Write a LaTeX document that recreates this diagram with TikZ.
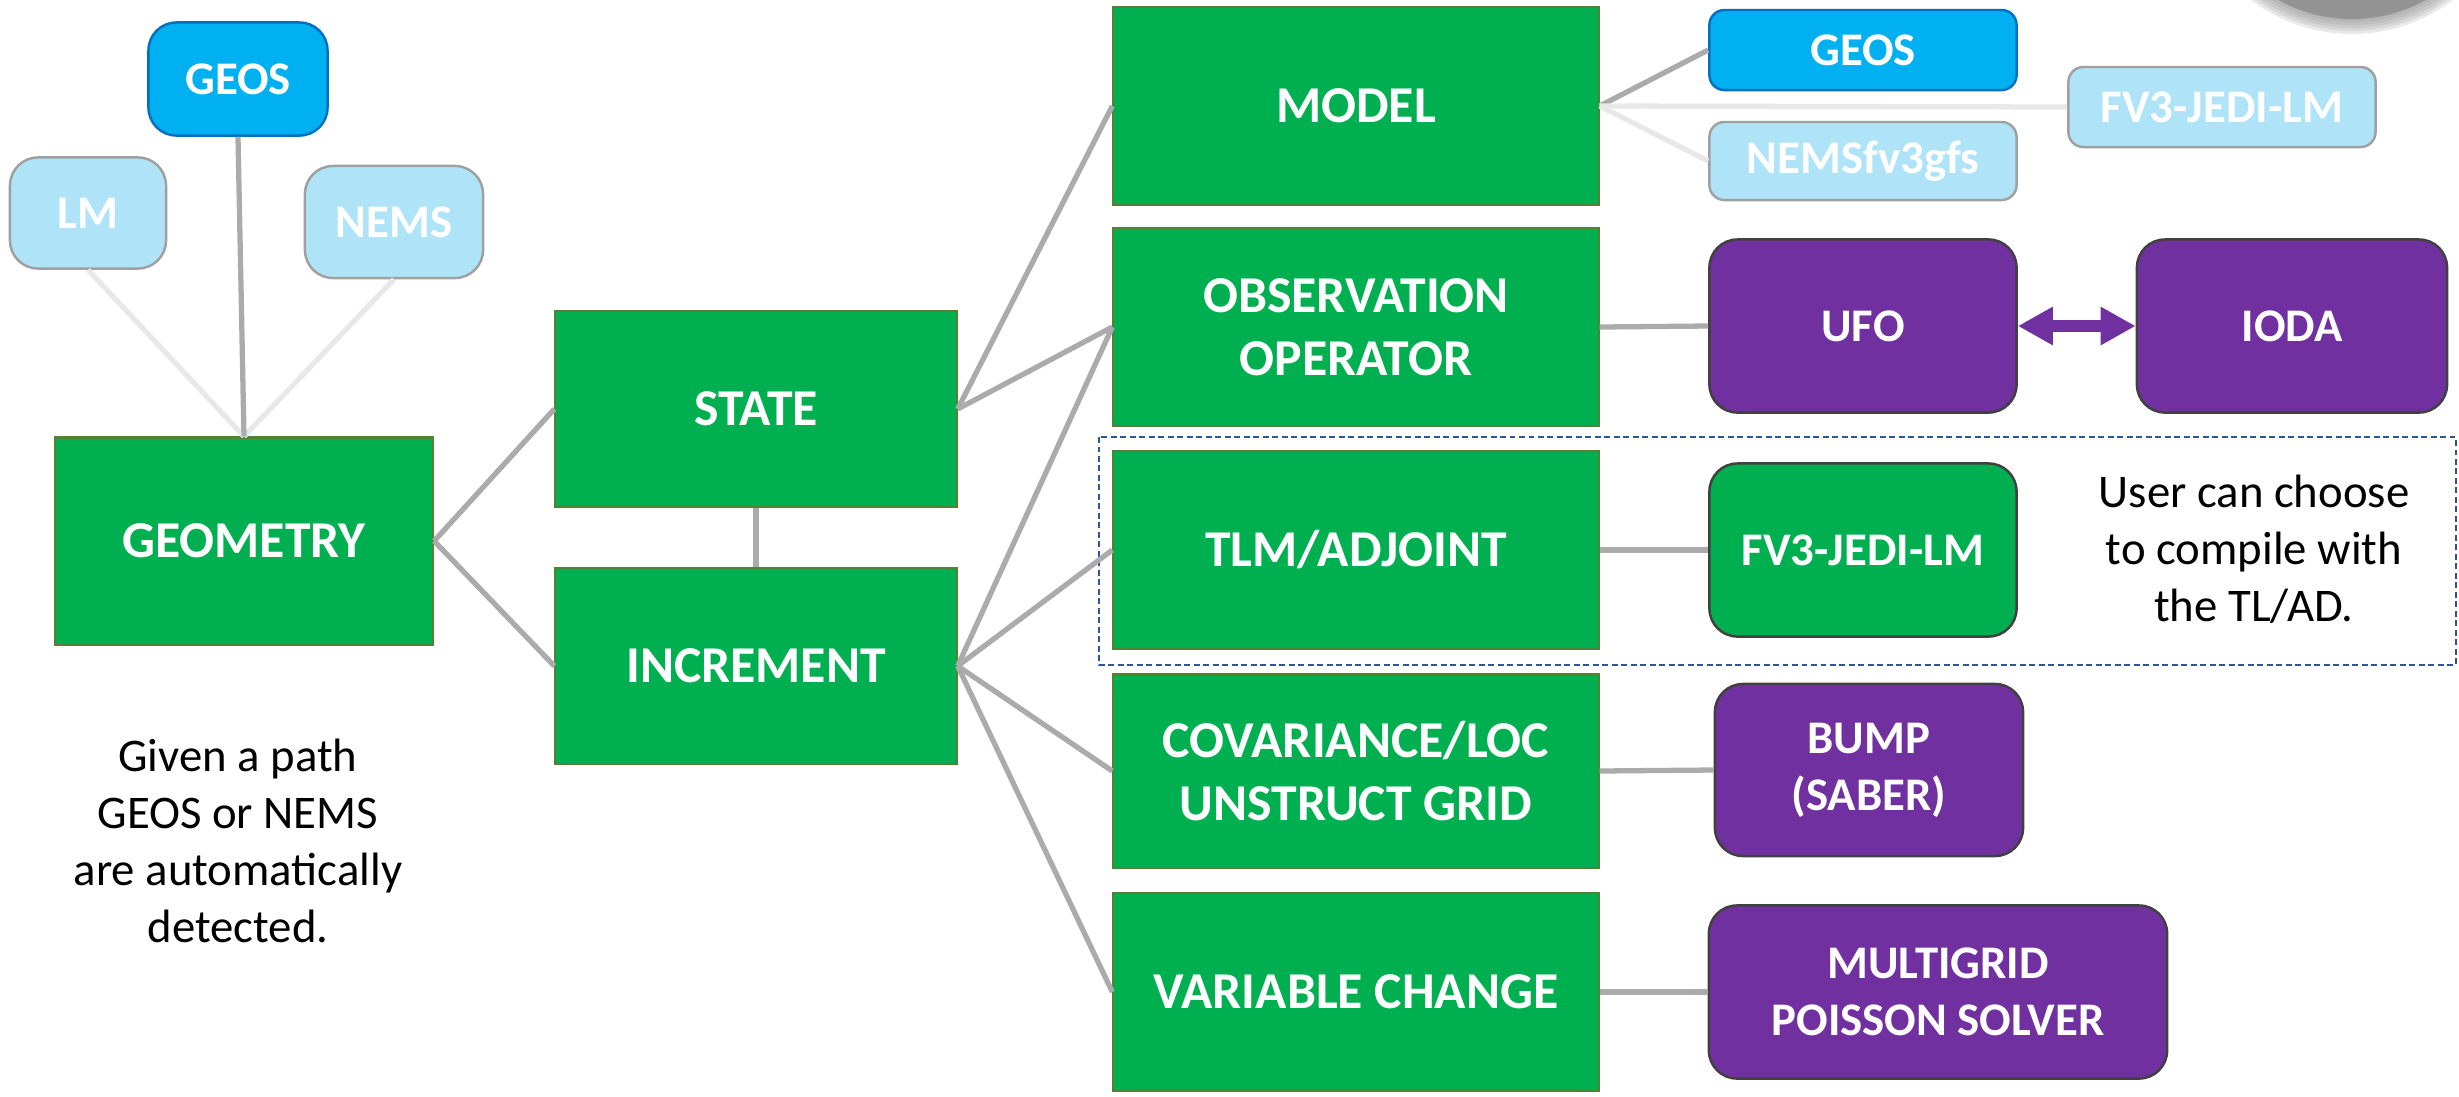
\documentclass[tikz,border=0pt]{standalone}
\usepackage{fontspec}
\setmainfont{Carlito}
\usetikzlibrary{arrows.meta}

\definecolor{boxGreen}{RGB}{0,176,80}
\definecolor{greenEdge}{RGB}{84,130,53}
\definecolor{paleBlue}{RGB}{175,228,248}
\definecolor{paleEdge}{RGB}{160,160,160}
\definecolor{brightBlue}{RGB}{0,176,240}
\definecolor{brightEdge}{RGB}{0,112,192}
\definecolor{boxPurple}{RGB}{112,48,160}
\definecolor{darkEdge}{RGB}{64,64,64}
\definecolor{linkGray}{RGB}{171,171,171}
\definecolor{faintGray}{RGB}{232,232,232}
\definecolor{dashBlue}{RGB}{47,85,151}
\definecolor{shadowGray}{RGB}{147,147,147}

\begin{document}
\begin{tikzpicture}[%%
  x=0.01cm,y=-0.01cm,%%
  linkStyle/.style={-,line width=1.5pt,draw=linkGray},%%
  faintStyle/.style={-,line width=1.5pt,draw=faintGray},%%
  bothStyle/.style={{Triangle[length=3.5mm,width=3.6mm]}-{Triangle[length=3.5mm,width=3.6mm]},line width=3.4pt,draw=boxPurple},%%
  dashStyle/.style={draw=dashBlue,dash pattern=on 1.7pt off 1pt,line width=0.7pt},%%
  bigFont/.style={font=\bfseries\fontsize{14.7}{17.9}\selectfont},%%
  smallFont/.style={font=\bfseries\fontsize{13.3}{16.2}\selectfont},%%
  greenBox/.style={bigFont,draw=greenEdge,fill=boxGreen,line width=0.6pt,text=white,align=center,inner sep=0pt,minimum width=4.85cm,minimum height=1.98cm},%%
  roundBox/.style={smallFont,rounded corners=0.28cm,line width=0.7pt,text=white,align=center,inner sep=0pt,minimum width=3.07cm,minimum height=1.73cm},%%
  purpleBox/.style={roundBox,draw=darkEdge,fill=boxPurple},%%
  paleBox/.style={roundBox,draw=paleEdge,fill=paleBlue},%%
  blueBox/.style={roundBox,draw=brightEdge,fill=brightBlue},%%
  noteStyle/.style={font=\fontsize{13.3}{16.2}\selectfont,align=center,inner sep=0pt}%%
]
%%
\useasboundingbox (0,0) rectangle (2459,1096);
%%
%% Shadow of the round badge cut by the top edge.
\foreach \rad in {1.66,1.63,1.60,1.57,1.54}
  \fill[shadowGray,opacity=0.2] (2352,-132) circle[radius=\rad cm];
\fill[shadowGray] (2352,-132) circle[radius=1.51cm];
%%
%% The geometry and the models it can come from.
\node[greenBox,minimum width=3.78cm,minimum height=2.07cm] (geometry) at (244,541) {GEOMETRY};
\node[paleBox,minimum width=1.56cm,minimum height=1.11cm] (lm) at (88,213) {LM};
\node[blueBox,minimum width=1.79cm,minimum height=1.13cm] (geosTop) at (238,79) {GEOS};
\node[paleBox,minimum width=1.78cm,minimum height=1.12cm] (nems) at (394,222) {NEMS};
\node[noteStyle] (pathNote) at (238,841) {Given a path\\GEOS or NEMS\\are automatically\\detected.};
%%
%% State and increment.
\node[greenBox,minimum width=4.01cm,minimum height=1.96cm] (state) at (756,409) {STATE};
\node[greenBox,minimum width=4.01cm,minimum height=1.96cm] (increment) at (756,666) {INCREMENT};
%%
%% The column of components.
\node[greenBox] (model) at (1356,106) {MODEL};
\node[greenBox] (obsOp) at (1356,327) {OBSERVATION\\OPERATOR};
\node[greenBox] (tlm) at (1356,550) {TLM/ADJOINT};
\node[greenBox,minimum height=1.93cm] (covLoc) at (1356,771) {COVARIANCE/LOC\\UNSTRUCT GRID};
\node[greenBox] (varChange) at (1356,992) {VARIABLE CHANGE};
%%
%% What each component is built from.
\node[blueBox,minimum height=0.80cm,rounded corners=0.15cm] (geosModel) at (1863,50) {GEOS};
\node[paleBox,minimum height=0.78cm,rounded corners=0.15cm] (nemsModel) at (1863,161) {NEMSfv3gfs};
\node[paleBox,minimum height=0.80cm,rounded corners=0.15cm] (fvModel) at (2222,107) {FV3-JEDI-LM};
\node[purpleBox] (ufo) at (1863,326) {UFO};
\node[purpleBox,minimum width=3.10cm] (ioda) at (2292,326) {IODA};
\node[roundBox,draw=darkEdge,fill=boxGreen] (fvTlm) at (1863,550) {FV3-JEDI-LM};
\node[purpleBox,minimum width=3.08cm,minimum height=1.72cm] (bump) at (1869,770) {BUMP\\(SABER)};
\node[purpleBox,minimum width=4.58cm] (multigrid) at (1938,992) {MULTIGRID\\POISSON SOLVER};
\node[noteStyle] (tlNote) at (2254,549) {User can choose\\to compile with\\the TL/AD.};
%%
%% Optional TL/AD part.
\draw[dashStyle] (1099,437) rectangle (2456,665);
%%
%% Links on the left.
\draw[faintStyle] (lm.south) -- (geometry.north);
\draw[faintStyle] (nems.south) -- (geometry.north);
\draw[linkStyle] (geosTop.south) -- (geometry.north);
\draw[linkStyle] (geometry.east) -- (state.west);
\draw[linkStyle] (geometry.east) -- (increment.west);
\draw[linkStyle] (state.south) -- (increment.north);
%%
%% Links to the column.
\draw[linkStyle] (state.east) -- (model.west);
\draw[linkStyle] (state.east) -- (obsOp.west);
\draw[linkStyle] (increment.east) -- (obsOp.west);
\draw[linkStyle] (increment.east) -- (tlm.west);
\draw[linkStyle] (increment.east) -- (covLoc.west);
\draw[linkStyle] (increment.east) -- (varChange.west);
%%
%% Links on the right.
\draw[linkStyle] (model.east) -- (geosModel.west);
\draw[faintStyle] (model.east) -- (nemsModel.west);
\draw[faintStyle] (model.east) -- (fvModel.west);
\draw[linkStyle] (obsOp.east) -- (ufo.west);
\draw[bothStyle] (ufo.east) -- (ioda.west);
\draw[linkStyle] (tlm.east) -- (fvTlm.west);
\draw[linkStyle] (covLoc.east) -- (bump.west);
\draw[linkStyle] (varChange.east) -- (multigrid.west);
\end{tikzpicture}
\end{document}
